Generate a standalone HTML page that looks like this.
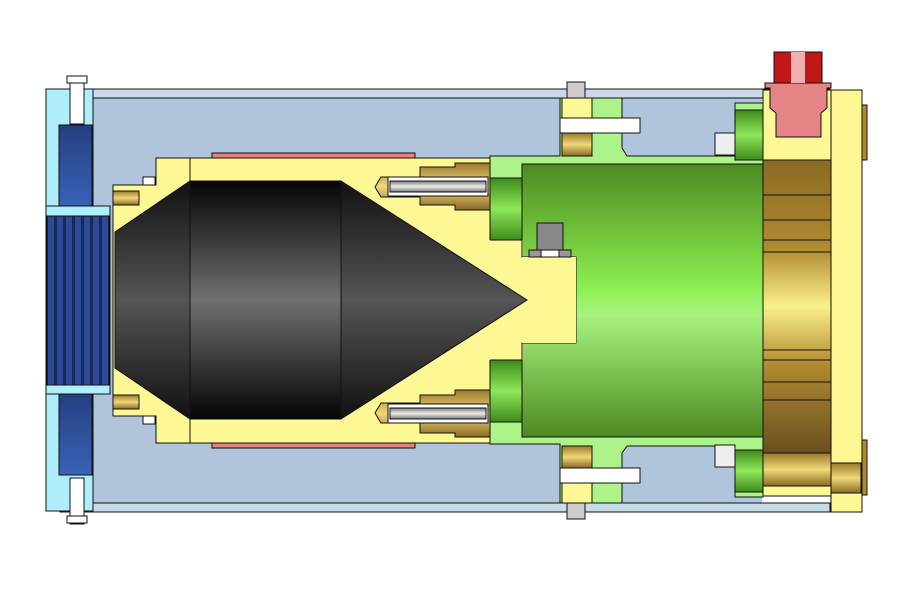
<!DOCTYPE html>
<html><head><meta charset="utf-8"><style>html,body{margin:0;padding:0;background:#fff}svg{display:block}</style></head><body>
<svg width="905" height="603" viewBox="0 0 905 603" xmlns="http://www.w3.org/2000/svg" stroke="#111" stroke-width="1">
<defs>
<linearGradient id="blk" x1="0" y1="0" x2="0" y2="1"><stop offset="0" stop-color="#050505"/><stop offset="0.5" stop-color="#707070"/><stop offset="1" stop-color="#050505"/></linearGradient>
<linearGradient id="blk2" x1="0" y1="0" x2="0" y2="1"><stop offset="0" stop-color="#111"/><stop offset="0.5" stop-color="#555"/><stop offset="1" stop-color="#111"/></linearGradient>
<linearGradient id="grn" x1="0" y1="0" x2="0" y2="1"><stop offset="0" stop-color="#4e8a22"/><stop offset="0.45" stop-color="#8cee50"/><stop offset="0.55" stop-color="#a8f47e"/><stop offset="1" stop-color="#4e8a22"/></linearGradient>
<linearGradient id="gsm" x1="0" y1="0" x2="0" y2="1"><stop offset="0" stop-color="#3f8a1c"/><stop offset="0.5" stop-color="#8ee85a"/><stop offset="1" stop-color="#3f8a1c"/></linearGradient>
<linearGradient id="brs" x1="0" y1="0" x2="0" y2="1"><stop offset="0" stop-color="#8a6a24"/><stop offset="0.3" stop-color="#b08a30"/><stop offset="0.5" stop-color="#fbf08a"/><stop offset="0.7" stop-color="#b08a30"/><stop offset="1" stop-color="#6a5020"/></linearGradient>
<linearGradient id="bsm" x1="0" y1="0" x2="0" y2="1"><stop offset="0" stop-color="#9a7a2c"/><stop offset="0.5" stop-color="#f0d878"/><stop offset="1" stop-color="#8a6a24"/></linearGradient>
<linearGradient id="blu" x1="0" y1="0" x2="0" y2="1"><stop offset="0" stop-color="#243f80"/><stop offset="1" stop-color="#3a62b8"/></linearGradient>
<linearGradient id="rod" x1="0" y1="0" x2="0" y2="1"><stop offset="0" stop-color="#777"/><stop offset="0.5" stop-color="#eee"/><stop offset="1" stop-color="#777"/></linearGradient>
<pattern id="bel" width="9" height="10" patternUnits="userSpaceOnUse"><rect width="9" height="10" fill="#2c4a96" stroke="none"/><rect x="0" width="3" height="10" fill="#162a5a" stroke="none"/></pattern>
</defs>
<rect x="92" y="97" width="670" height="407" fill="#b0c4dc" stroke="none"/>
<rect x="60" y="89" width="770" height="9" fill="#c8dce8"/>
<rect x="60" y="503" width="770" height="9" fill="#c8dce8"/>
<rect x="46" y="89" width="47" height="422" fill="#aeeefa"/>
<rect x="59" y="125" width="33" height="82" fill="url(#blu)"/>
<rect x="59" y="393" width="33" height="82" fill="url(#blu)"/>
<rect x="46" y="206" width="64" height="188" fill="#aeeefa"/>
<rect x="47" y="216" width="62" height="169" fill="url(#bel)"/>
<rect x="70" y="78" width="14" height="46" fill="#fff"/><rect x="67" y="76" width="20" height="7" fill="#fff"/>
<rect x="70" y="478" width="14" height="46" fill="#fff"/><rect x="67" y="516" width="20" height="7" fill="#fff"/>
<path d="M113 185 H156 V158 H490 V443 H156 V416 H113 Z" fill="#fdf794"/>
<line x1="190" y1="158" x2="190" y2="443"/>
<rect x="212" y="153" width="203" height="5" fill="#e88080"/>
<rect x="212" y="443" width="203" height="5" fill="#e88080"/>
<rect x="113" y="191" width="26" height="14" fill="url(#bsm)"/>
<rect x="113" y="395" width="26" height="14" fill="url(#bsm)"/>
<rect x="143" y="177" width="12" height="8" fill="#fff"/>
<rect x="143" y="416" width="12" height="8" fill="#fff"/>
<g>
<polygon points="375,187 381,177 420,177 420,167 455,167 455,163 490,163 490,210 455,210 455,205 420,205 420,197 381,197" fill="url(#bsm)"/>
<rect x="388" y="177" width="100" height="19" fill="#fff"/>
<rect x="390" y="181" width="96" height="11" fill="url(#rod)"/>
</g>
<g>
<polygon points="375,413 381,403 420,403 420,395 455,395 455,390 490,390 490,437 455,437 455,433 420,433 420,423 381,423" fill="url(#bsm)"/>
<rect x="388" y="404" width="100" height="19" fill="#fff"/>
<rect x="390" y="408" width="96" height="11" fill="url(#rod)"/>
</g>
<path d="M490 156 H560 V98 H622 V148 L627 156 H735 V103 H763 V497 H735 V446 H627 L622 453 V503 H560 V444 H490 V350 H522 V343 H576 V257 H522 V240 H490 Z" fill="#acf48a"/>
<rect x="490" y="178" width="32" height="62" fill="url(#gsm)"/>
<rect x="490" y="360" width="32" height="62" fill="url(#gsm)"/>
<rect x="522" y="164" width="242" height="273" fill="url(#grn)"/>
<rect x="486" y="240" width="37" height="120" fill="#fdf794" stroke="none"/>
<path d="M490 240 H522 V257 H576 V343 H522 V360 H490" fill="none"/>
<rect x="522" y="257" width="54" height="86" fill="#fdf794" stroke="none"/>
<polygon points="115,232 190,181 190,419 115,368" fill="url(#blk2)"/>
<rect x="190" y="181" width="151" height="238" fill="url(#blk)"/>
<polygon points="341,181 527,300 341,419" fill="url(#blk2)"/>
<rect x="537" y="223" width="26" height="27" fill="#888"/>
<rect x="529" y="250" width="42" height="7" fill="#999"/>
<rect x="541" y="250" width="18" height="7" fill="#fff"/>
<rect x="562" y="98" width="30" height="20" fill="#fdf794"/>
<rect x="562" y="133" width="30" height="23" fill="url(#bsm)"/>
<rect x="560" y="118" width="80" height="15" fill="#fff"/>
<rect x="567" y="82" width="18" height="16" fill="#ccc"/>
<rect x="562" y="446" width="30" height="22" fill="url(#bsm)"/>
<rect x="562" y="483" width="30" height="20" fill="#fdf794"/>
<rect x="560" y="468" width="80" height="15" fill="#fff"/>
<rect x="567" y="503" width="18" height="16" fill="#ccc"/>
<rect x="735" y="110" width="28" height="50" fill="url(#gsm)"/>
<rect x="735" y="450" width="28" height="42" fill="url(#gsm)"/>
<rect x="715" y="133" width="20" height="22" fill="#eee"/>
<rect x="715" y="445" width="20" height="22" fill="#eee"/>
<rect x="763" y="90" width="68" height="72" fill="#fdf794"/>
<rect x="763" y="440" width="68" height="56" fill="#fdf794"/>
<rect x="763" y="160" width="68" height="293" fill="url(#brs)"/>
<line x1="763" y1="195" x2="831" y2="195"/><line x1="763" y1="220" x2="831" y2="220"/>
<line x1="763" y1="240" x2="831" y2="240"/><line x1="763" y1="252" x2="831" y2="252"/>
<line x1="763" y1="350" x2="831" y2="350"/><line x1="763" y1="360" x2="831" y2="360"/>
<line x1="763" y1="382" x2="831" y2="382"/><line x1="763" y1="400" x2="831" y2="400"/>
<rect x="763" y="453" width="68" height="33" fill="url(#bsm)"/>
<rect x="831" y="90" width="31" height="422" fill="#fdf794"/>
<rect x="862" y="105" width="5" height="55" fill="#b08a30"/>
<rect x="862" y="440" width="5" height="55" fill="#b08a30"/>
<rect x="831" y="463" width="30" height="30" fill="url(#bsm)"/>
<path d="M765 83 H831 V88 H827 V108 L821 113 V137 H776 V113 L770 108 V88 H765 Z" fill="#e48484"/>
<rect x="774" y="52" width="48" height="31" fill="#c01818"/>
<rect x="791" y="52" width="14" height="31" fill="#f0b0b0" stroke="none"/>
</svg>
</body></html>
